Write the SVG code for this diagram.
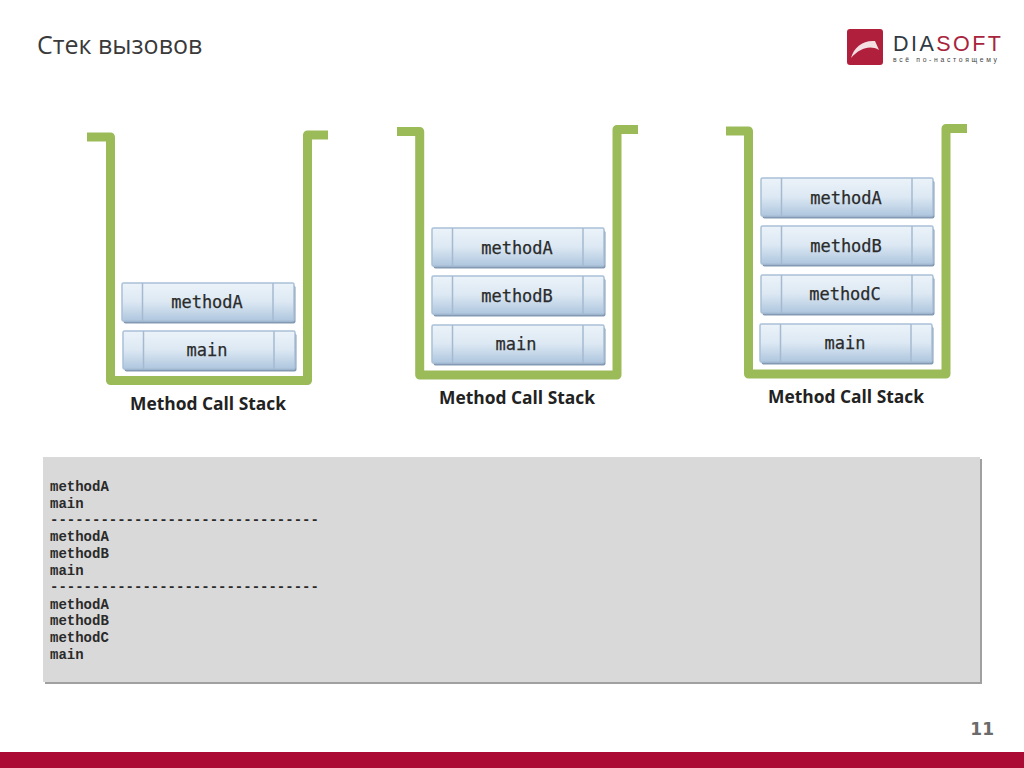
<svg xmlns="http://www.w3.org/2000/svg" width="1024" height="768" viewBox="0 0 1024 768">
<style>
.frame{fill:none;stroke:#9bbb59;stroke-width:9;stroke-linejoin:round}
.shadow{fill:#8499b3}
.box{fill:url(#boxg);stroke:#a9c0d8;stroke-width:1.5}
.div{stroke:#a5bad0;stroke-width:1.5}
.lbl{font-family:"DejaVu Sans Mono","Liberation Mono",monospace;font-size:17px;fill:#2b2b2b;stroke:#2b2b2b;stroke-width:.25;text-anchor:middle}
.cap{font-family:"Open Sans","Liberation Sans",sans-serif;font-size:17.4px;font-weight:700;fill:#222;text-anchor:middle}
.code{font-family:"Liberation Mono",monospace;font-size:14px;font-weight:700;fill:#2a2a2a}
</style>
<defs>
<linearGradient id="boxg" x1="0" y1="0" x2="0" y2="1"><stop offset="0" stop-color="#ecf3f9"/><stop offset="0.5" stop-color="#dce8f3"/><stop offset="1" stop-color="#aec6de"/></linearGradient>
<g id="cell"><rect class="shadow" x="1.500" y="2.500" width="172" height="38" rx="2"/><rect class="box" x="0" y="0" width="172" height="38" rx="1.500"/><line class="div" x1="20.500" y1="0" x2="20.500" y2="38"/><line class="div" x1="151" y1="0" x2="151" y2="38"/></g>
</defs>
<rect width="1024" height="768" fill="#fff"/>
<text id="title" x="37" y="54" font-family="'Open Sans','Liberation Sans',sans-serif" font-size="25" fill="#3a3a3a">Стек вызовов</text>
<g id="logo">
<rect x="847" y="29" width="36" height="36" rx="3" fill="#b01f3c"/>
<path d="M851 58C854 47 863 40 875 41L879 50C870 45 860 48 851 58Z" fill="#f4dfe2"/>
<text x="893" y="51" font-family="'Liberation Sans',sans-serif" font-size="21.500" textLength="108" fill="#2f3a44">DIA<tspan fill="#a8243d">SOFT</tspan></text>
<text x="893" y="61.500" font-family="'Liberation Sans',sans-serif" font-size="6.800" textLength="104" fill="#444">всё по-настоящему</text>
</g>
<g id="connectors"></g>
<g id="stack1">
<path class="frame" d="M87 137H110.500V380.500H307.500V135H328"/>
<use href="#cell" x="122" y="283"/><text class="lbl" x="207" y="308">methodA</text>
<use href="#cell" x="123" y="331"/><text class="lbl" x="207" y="356">main</text>
<text class="cap" x="208" y="410">Method Call Stack</text>
</g>
<g id="stack2">
<path class="frame" d="M397 131.500H419.700V375H617V129.500H638"/>
<use href="#cell" x="432" y="228"/><text class="lbl" x="517" y="254">methodA</text>
<use href="#cell" x="432" y="276"/><text class="lbl" x="517" y="302">methodB</text>
<use href="#cell" x="432" y="325"/><text class="lbl" x="516" y="350">main</text>
<text class="cap" x="517" y="404">Method Call Stack</text>
</g>
<g id="stack3">
<path class="frame" d="M726 131H748.500V374H946V128.500H967"/>
<use href="#cell" x="761" y="178"/><text class="lbl" x="846" y="204">methodA</text>
<use href="#cell" x="761" y="226"/><text class="lbl" x="846" y="252">methodB</text>
<use href="#cell" x="761" y="275"/><text class="lbl" x="845" y="300">methodC</text>
<use href="#cell" x="760" y="324"/><text class="lbl" x="845" y="349">main</text>
<text class="cap" x="846" y="403">Method Call Stack</text>
</g>
<g id="output">
<rect x="45" y="459" width="937" height="225" fill="#a0a0a0"/>
<rect x="43" y="457" width="937" height="225" fill="#d9d9d9"/>
<text class="code" x="50" y="491">methodA</text>
<text class="code" x="50" y="508">main</text>
<text class="code" x="50" y="524">--------------------------------</text>
<text class="code" x="50" y="541">methodA</text>
<text class="code" x="50" y="558">methodB</text>
<text class="code" x="50" y="575">main</text>
<text class="code" x="50" y="591">--------------------------------</text>
<text class="code" x="50" y="609">methodA</text>
<text class="code" x="50" y="625">methodB</text>
<text class="code" x="50" y="642">methodC</text>
<text class="code" x="50" y="659">main</text>
</g>
<text id="page" x="994" y="735" text-anchor="end" font-family="'DejaVu Sans','Liberation Sans',sans-serif" font-size="17" font-weight="700" fill="#6b6b6b">11</text>
<rect id="footer" x="0" y="752" width="1024" height="16" fill="#ab0a35"/>
</svg>
